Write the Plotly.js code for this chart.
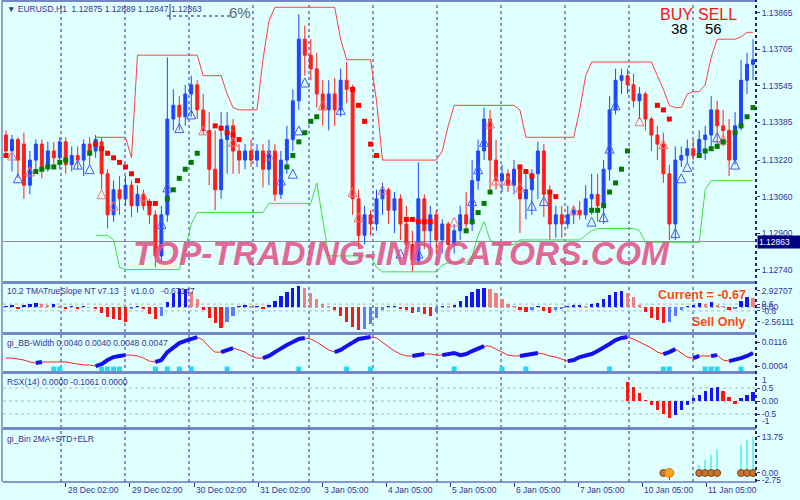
<!DOCTYPE html>
<html><head><meta charset="utf-8">
<script src="https://cdn.plot.ly/plotly-3.0.1.min.js"></script>
<style>html,body{margin:0;padding:0;background:#E0FFFF;}#chart{width:800px;height:500px;}</style>
</head><body><div id="chart"></div>
<script>
// ---------- main panel: candles (EURUSD H1) ----------
const open = [1.1333,1.1326,1.1331,1.1329,1.1311,1.1322,1.1329,1.1319,1.1326,1.1323,
1.1330,1.1320,1.1324,1.1322,1.1329,1.1326,1.1330,1.1316,1.1298,1.1309,
1.1305,1.1311,1.1302,1.1307,1.1302,1.1298,1.1280,1.1298,1.1340,1.1346,
1.1341,1.1351,1.1355,1.1344,1.1335,1.1318,1.1309,1.1331,1.1337,1.1326,
1.1322,1.1326,1.1322,1.1326,1.1318,1.1326,1.1307,1.1322,1.1331,1.1348,
1.1375,1.1368,1.1362,1.1351,1.1344,1.1351,1.1344,1.1357,1.1353,1.1305,
1.1289,1.1298,1.1294,1.1305,1.1309,1.1300,1.1305,1.1294,1.1285,1.1278,
1.1305,1.1291,1.1298,1.1287,1.1294,1.1285,1.1291,1.1298,1.1294,1.1313,
1.1326,1.1340,1.1322,1.1313,1.1316,1.1311,1.1318,1.1305,1.1309,1.1316,
1.1326,1.1307,1.1294,1.1298,1.1294,1.1298,1.1300,1.1298,1.1305,1.1307,
1.1302,1.1318,1.1344,1.1357,1.1359,1.1355,1.1348,1.1351,1.1340,1.1333,
1.1329,1.1316,1.1294,1.1322,1.1324,1.1327,1.1324,1.1331,1.1333,1.1344,
1.1337,1.1335,1.1322,1.1337,1.1357,1.1364];
const close = [1.1326,1.1331,1.1322,1.1311,1.1322,1.1329,1.1318,1.1326,1.1323,1.1330,
1.1320,1.1324,1.1322,1.1329,1.1326,1.1331,1.1316,1.1298,1.1309,1.1305,
1.1311,1.1302,1.1307,1.1302,1.1298,1.1280,1.1298,1.1340,1.1346,1.1341,
1.1351,1.1355,1.1344,1.1335,1.1318,1.1309,1.1331,1.1337,1.1326,1.1322,
1.1326,1.1322,1.1326,1.1318,1.1326,1.1307,1.1322,1.1331,1.1348,1.1375,
1.1368,1.1362,1.1351,1.1344,1.1351,1.1344,1.1357,1.1353,1.1305,1.1289,
1.1298,1.1294,1.1305,1.1309,1.1300,1.1305,1.1294,1.1285,1.1278,1.1305,
1.1291,1.1298,1.1287,1.1294,1.1285,1.1291,1.1298,1.1294,1.1313,1.1326,
1.1340,1.1322,1.1313,1.1316,1.1311,1.1318,1.1305,1.1309,1.1316,1.1326,
1.1307,1.1294,1.1298,1.1294,1.1298,1.1300,1.1298,1.1305,1.1307,1.1302,
1.1318,1.1344,1.1357,1.1359,1.1355,1.1348,1.1351,1.1340,1.1333,1.1329,
1.1316,1.1294,1.1322,1.1324,1.1327,1.1324,1.1331,1.1333,1.1344,1.1337,
1.1335,1.1322,1.1337,1.1357,1.1364,1.1366];
const high = [1.1335,1.1333,1.1332,1.1334,1.1326,1.1331,1.1331,1.1330,1.1330,1.1332,
1.1332,1.1328,1.1328,1.1331,1.1332,1.1333,1.1332,1.1318,1.1313,1.1315,
1.1315,1.1313,1.1311,1.1309,1.1305,1.1300,1.1302,1.1367,1.1353,1.1350,
1.1355,1.1359,1.1357,1.1351,1.1343,1.1335,1.1343,1.1343,1.1340,1.1329,
1.1329,1.1331,1.1329,1.1329,1.1331,1.1329,1.1326,1.1337,1.1353,1.1386,
1.1381,1.1375,1.1369,1.1357,1.1357,1.1358,1.1362,1.1365,1.1355,1.1309,
1.1302,1.1300,1.1309,1.1312,1.1310,1.1308,1.1307,1.1302,1.1291,1.1321,
1.1307,1.1302,1.1300,1.1296,1.1295,1.1294,1.1302,1.1308,1.1322,1.1331,
1.1345,1.1344,1.1331,1.1320,1.1318,1.1322,1.1320,1.1316,1.1318,1.1330,
1.1329,1.1311,1.1302,1.1302,1.1302,1.1302,1.1304,1.1311,1.1316,1.1316,
1.1322,1.1350,1.1362,1.1362,1.1362,1.1360,1.1354,1.1352,1.1341,1.1337,
1.1334,1.1320,1.1328,1.1328,1.1331,1.1331,1.1335,1.1337,1.1350,1.1348,
1.1344,1.1340,1.1343,1.1366,1.1369,1.1375];
const low = [1.1324,1.1317,1.1314,1.1305,1.1307,1.1316,1.1314,1.1317,1.1320,1.1318,
1.1316,1.1317,1.1318,1.1315,1.1320,1.1323,1.1309,1.1292,1.1295,1.1298,
1.1302,1.1297,1.1299,1.1300,1.1294,1.1275,1.1277,1.1295,1.1335,1.1335,
1.1337,1.1341,1.1340,1.1333,1.1311,1.1300,1.1305,1.1316,1.1316,1.1316,
1.1318,1.1319,1.1319,1.1310,1.1311,1.1304,1.1305,1.1316,1.1326,1.1344,
1.1359,1.1357,1.1345,1.1337,1.1335,1.1337,1.1341,1.1347,1.1298,1.1283,
1.1285,1.1289,1.1291,1.1298,1.1294,1.1290,1.1287,1.1280,1.1273,1.1276,
1.1283,1.1281,1.1281,1.1281,1.1280,1.1281,1.1287,1.1290,1.1291,1.1309,
1.1322,1.1309,1.1309,1.1308,1.1308,1.1307,1.1290,1.1296,1.1298,1.1305,
1.1297,1.1287,1.1288,1.1288,1.1292,1.1294,1.1296,1.1296,1.1298,1.1295,
1.1294,1.1313,1.1342,1.1351,1.1351,1.1345,1.1340,1.1335,1.1326,1.1322,
1.1312,1.1287,1.1287,1.1319,1.1321,1.1322,1.1323,1.1322,1.1326,1.1328,
1.1328,1.1315,1.1320,1.1335,1.1351,1.1357];
const N = null;
const upperBand = [N,N,N,N,N,N,N,N,N,N,N,N,N,N,N,
1.1332,1.1332,1.1332,1.1332,1.1332,1.1332,1.1323,
1.1368,1.1368,1.1368,1.1368,1.1368,1.1368,1.1368,1.1368,1.1368,1.1368,1.1368,
1.1359,1.1359,1.1359,1.1359,1.1351,1.1345,1.1344,1.1344,1.1344,1.1344,1.1366,1.1383,
1.1389,1.1389,1.1389,1.1389,1.1389,1.1389,1.1389,1.1389,1.1389,1.1389,1.1389,
1.1375,1.1366,1.1366,1.1366,1.1366,1.1366,1.1348,
1.1322,1.1322,1.1322,1.1322,1.1322,1.1322,1.1322,1.1322,1.1322,1.1322,
1.1326,1.1337,
1.1346,1.1346,1.1346,1.1346,1.1346,1.1346,1.1346,1.1346,1.1346,1.1346,1.1346,
1.1344,1.1332,1.1332,1.1332,1.1332,1.1332,1.1332,1.1332,1.1332,1.1332,
1.1344,1.1359,
1.1365,1.1365,1.1365,1.1365,1.1365,1.1365,1.1365,1.1365,1.1365,1.1365,1.1365,
1.1359,1.1353,1.1346,1.1345,1.1345,1.1351,1.1352,1.1352,1.1355,1.1367,
1.1375,1.1375,1.1375,1.1375,1.1376,1.1378,1.1378];
const lowerBand = [N,N,N,N,N,N,N,N,N,N,N,N,N,N,N,
1.1289,1.1289,1.1289,1.1287,1.1275,
1.1274,1.1274,1.1274,1.1274,1.1274,1.1274,1.1274,1.1274,1.1274,1.1274,
1.1283,1.1294,
1.1299,1.1299,1.1299,1.1299,1.1299,1.1299,1.1299,1.1299,1.1299,1.1299,1.1299,1.1299,
1.1303,1.1303,1.1303,1.1303,1.1303,1.1303,1.1303,1.1303,
1.1312,1.1296,
1.1280,1.1280,1.1280,1.1280,1.1280,1.1280,1.1280,1.1280,
1.1275,1.1273,1.1273,1.1273,1.1273,1.1273,1.1273,1.1273,1.1273,1.1273,1.1273,
1.1276,1.1277,1.1277,1.1277,1.1277,1.1280,1.1289,1.1295,1.1287,
1.1285,1.1285,1.1285,1.1285,
1.1287,1.1287,1.1287,1.1287,1.1287,1.1287,1.1287,1.1287,1.1287,1.1287,1.1287,
1.1289,1.1291,1.1292,1.1292,1.1292,1.1292,1.1292,1.1292,1.1292,1.1291,
1.1286,1.1286,1.1286,1.1286,1.1286,1.1286,1.1286,1.1286,1.1286,1.1286,
1.1309,1.1313,1.1313,1.1313,1.1313,1.1313,1.1313,1.1313,1.1313];
// trailing stop dots (bar index, price)
const sarRedBar = [0,15,16,17,18,19,20,21,22,24,25,35,36,37,38,39,58,59,60,61,62,67,68,69,70,71,86,87,88,91,92,109,110,111];
const sarRedVal = [1.1324,1.1329,1.1327,1.1325,1.1323,1.1321,1.1319,1.1316,1.1313,1.1303,1.1303,1.1337,1.1336,1.1334,1.1333,1.1331,1.1353,1.1346,1.1339,1.1329,1.1324,1.1296,1.1296,1.1295,1.1295,1.1295,1.1319,1.1317,1.1315,1.1308,1.1306,1.1346,1.1344,1.1340];
const sarGreenBar = [5,6,7,8,9,10,14,27,28,29,30,31,32,47,48,49,50,51,52,77,78,79,80,81,98,99,100,101,102,103,104,116,117,118,119,120,122,123,124,125];
const sarGreenVal = [1.1317,1.1318,1.1319,1.1319,1.1321,1.1322,1.1325,1.1305,1.1309,1.1314,1.1318,1.1321,1.1325,1.1319,1.1324,1.1330,1.1334,1.1339,1.1341,1.1291,1.1295,1.1299,1.1303,1.1308,1.1300,1.1300,1.1302,1.1308,1.1312,1.1318,1.1326,1.1324,1.1326,1.1327,1.1328,1.1330,1.1334,1.1337,1.1341,1.1345];
// hollow arrows
const arrBlueBar = [2,12,14,26,27,29,31,46,48,49,50,56,66,69,78,79,80,88,90,98,100,101,102,112,113,114,119,122];
const arrBlueVal = [1.1316,1.1322,1.1320,1.1296,1.1312,1.1338,1.1344,1.1315,1.1318,1.1337,1.1358,1.1346,1.1283,1.1283,1.1306,1.1320,1.1332,1.1304,1.1306,1.1297,1.1299,1.1329,1.1348,1.1292,1.1316,1.1321,1.1334,1.1322];
const arrRedBar = [1,4,16,18,23,33,38,44,53,58,59,63,75,81,82,84,86,95,106,110,120];
const arrRedVal = [1.1326,1.1319,1.1309,1.1304,1.1308,1.1337,1.1332,1.1326,1.1348,1.1310,1.1299,1.1311,1.1297,1.1340,1.1315,1.1315,1.1312,1.1302,1.1341,1.1331,1.1333];
const currentPrice = 1.12863;
const priceTicks = [1.13865,1.13705,1.13545,1.13385,1.13220,1.13060,1.12900,1.12740];
const priceTickText = ['1.13865','1.13705','1.13545','1.13385','1.13220','1.13060','1.12900','1.12740'];

// ---------- TMA True Slope ----------
const tma = [0.3,0.5,-0.2,0.4,0.6,0.8,0.6,0.5,0.7,0.3,
-0.2,0.2,-0.3,0.2,0.1,-0.3,-1.0,-1.6,-2.0,-2.3,
-2.5,-0.3,0.2,-0.3,-1.2,-2.0,-1.5,1.0,2.5,3.2,
3.3,2.8,1.5,-0.5,-1.8,-2.8,-3.6,-2.5,-1.5,0.3,
0.4,0.2,0.2,-0.2,0.5,1.2,2.0,2.8,3.5,3.8,
3.5,2.5,1.5,0.6,0.3,-0.5,-1.5,-2.5,-3.5,-4.0,
-3.8,-3.0,-1.8,-0.5,0.2,0.3,-0.2,-0.5,-1.0,-0.8,
-1.2,-1.5,-0.8,0.3,0.2,0.5,1.2,2.0,2.8,3.2,
3.5,3.3,2.5,1.5,0.6,0.2,-0.5,-0.8,-0.4,0.3,
-0.6,-0.9,-0.5,-0.2,0.3,0.4,0.5,0.3,0.6,0.8,
1.5,2.2,2.8,2.9,2.6,1.8,0.5,-0.8,-1.8,-2.3,
-2.7,-2.5,-1.5,-0.5,0.2,0.5,0.8,0.6,0.9,0.5,
0.3,-0.4,-0.2,1.2,1.9,1.6];
const tmaLevels = [0.6, 0, -0.6];
const tmaTicks = [2.92707, 0.6, 0, -0.6, -2.56111];
const tmaTickText = ['2.92707','0.6','0.00','-0.6','-2.56111'];

// ---------- BB width ----------
const bbw = [0.0041,0.0041,0.0037,0.0032,0.0023,0.0018,0.0023,0.0023,0.0023,0.0023,
0.0023,0.0018,0.0013,0.0009,0.0009,0.0004,0.0013,0.0032,0.0046,0.0051,
0.0055,0.0055,0.0051,0.0041,0.0027,0.0023,0.0032,0.0069,0.0093,0.0111,
0.0121,0.0130,0.0139,0.0125,0.0093,0.0069,0.0069,0.0079,0.0088,0.0079,
0.0069,0.0051,0.0041,0.0041,0.0051,0.0069,0.0088,0.0102,0.0116,0.0130,
0.0135,0.0130,0.0116,0.0097,0.0079,0.0069,0.0079,0.0097,0.0116,0.0130,
0.0135,0.0139,0.0135,0.0116,0.0093,0.0074,0.0060,0.0051,0.0051,0.0055,
0.0060,0.0060,0.0055,0.0055,0.0060,0.0065,0.0055,0.0060,0.0074,0.0088,
0.0097,0.0097,0.0083,0.0069,0.0055,0.0051,0.0051,0.0055,0.0060,0.0065,
0.0060,0.0051,0.0046,0.0037,0.0027,0.0032,0.0046,0.0055,0.0060,0.0074,
0.0088,0.0107,0.0125,0.0135,0.0139,0.0130,0.0116,0.0102,0.0088,0.0069,
0.0060,0.0069,0.0083,0.0065,0.0046,0.0041,0.0051,0.0051,0.0051,0.0055,
0.0032,0.0027,0.0032,0.0041,0.0051,0.0065];
const bbSignalBar = [8,9,16,17,18,19,25,27,29,31,37,49,57,61,75,83,87,101,110,111,117,118,119,123];
const bbSignalLevel = -0.0010;
const bbTicks = [0.0116, 0.0004];
const bbTickText = ['0.0116','0.0004'];

// ---------- RSX(14) ----------
const rsxStart = 104;
const rsx = [0.73,0.55,0.3,0.05,-0.15,-0.35,-0.5,-0.65,-0.55,-0.35,-0.15,0.1,0.25,0.4,0.5,0.55,0.4,0.15,-0.1,0.1,0.25,0.35];
const rsxLevels = [0.5, 0, -0.5];
const rsxTicks = [0.5, 0, -0.5];
const rsxTickText = ['0.5','0.00','-0.5'];

// ---------- gi_Bin ----------
const binBar = [116,117,118,119,123,124,125];
const binVal = [3.0,5.0,6.9,9.2,10.5,12.6,13.75];
const binDotBar = [110,116,117,118,119,123,124,125];
const binWarnBar = [111];
const binWarnVal = [-2.5];
const binTicks = [13.75, 0, -2.75];
const binTickText = ['13.75','0.00','-2.75'];

// ---------- time axis ----------
const dayLines = [9.21,19.91,30.62,41.33,50.70,61.41,72.12,82.83,93.54,104.25,114.96];
const timePos = [-0.67,10.04,20.75,31.46,42.17,52.88,63.59,74.30,85.01,95.72,106.43,117.14];
const timeText = ['27 Dec 2021','28 Dec 02:00','29 Dec 02:00','30 Dec 02:00','31 Dec 02:00','3 Jan 05:00','4 Jan 05:00','5 Jan 05:00','6 Jan 05:00','7 Jan 05:00','10 Jan 05:00','11 Jan 05:00'];

// ================== build ==================
const FONT = 'Liberation Sans, Arial, sans-serif';
const NAVY = '#33339A';
const idx = open.map((_, i) => i);

const tmaColors = tma.map((v, i) => {
  const p = i > 0 ? tma[i - 1] : v;
  if (v >= 0) return v >= p ? '#1414FF' : '#F08080';
  return v <= p ? '#FF1414' : '#5C7CFF';
});
const bbUp = bbw.map((v, i) => ((i > 0 && v > bbw[i - 1]) || (i < bbw.length - 1 && bbw[i + 1] > v)) ? v : null);
const rsxX = rsx.map((_, k) => rsxStart + k);
const rsxColors = rsx.map((v, k) => (k > 0 && v > rsx[k - 1]) ? '#1414FF' : '#FF1414');

const traces = [
  {type:'scatter', mode:'lines', x:idx, y:upperBand, line:{color:'#FF4040', width:1}, xaxis:'x', yaxis:'y', hoverinfo:'skip'},
  {type:'scatter', mode:'lines', x:idx, y:lowerBand, line:{color:'#3BE03B', width:1}, xaxis:'x', yaxis:'y', hoverinfo:'skip'},
  {type:'candlestick', x:idx, open:open, high:high, low:low, close:close, xaxis:'x', yaxis:'y',
   increasing:{line:{color:'#1E46FF', width:1}, fillcolor:'#1E46FF'},
   decreasing:{line:{color:'#FF1E1E', width:1}, fillcolor:'#FF1E1E'}, whiskerwidth:0},
  {type:'scatter', mode:'markers', x:arrBlueBar, y:arrBlueVal, marker:{symbol:'arrow-up-open', size:9, color:'#3A5CFF', line:{color:'#3A5CFF', width:1}}, xaxis:'x', yaxis:'y'},
  {type:'scatter', mode:'markers', x:arrRedBar, y:arrRedVal, marker:{symbol:'arrow-up-open', size:9, color:'#FF6A6A', line:{color:'#FF6A6A', width:1}}, xaxis:'x', yaxis:'y'},
  {type:'scatter', mode:'markers', x:sarRedBar, y:sarRedVal, marker:{symbol:'square', size:5, color:'#FF0000'}, xaxis:'x', yaxis:'y'},
  {type:'scatter', mode:'markers', x:sarGreenBar, y:sarGreenVal, marker:{symbol:'square', size:5, color:'#007A00'}, xaxis:'x', yaxis:'y'},
  {type:'bar', x:idx, y:tma, marker:{color:tmaColors}, width:0.55, xaxis:'x', yaxis:'y2'},
  {type:'scatter', mode:'lines', x:idx, y:bbw, line:{color:'#FF2020', width:1}, xaxis:'x', yaxis:'y3'},
  {type:'scatter', mode:'lines', x:idx, y:bbUp, line:{color:'#1010F0', width:4}, connectgaps:false, xaxis:'x', yaxis:'y3'},
  {type:'scatter', mode:'markers', x:bbSignalBar, y:bbSignalBar.map(() => bbSignalLevel), marker:{symbol:'square', size:5, color:'#22D8F8'}, xaxis:'x', yaxis:'y3'},
  {type:'bar', x:rsxX, y:rsx, marker:{color:rsxColors}, width:0.55, xaxis:'x', yaxis:'y4'},
  {type:'bar', x:binBar, y:binVal, marker:{color:'#6FF4F4'}, width:0.35, xaxis:'x', yaxis:'y5'},
  {type:'bar', x:binWarnBar, y:binWarnVal, marker:{color:'#FF2020'}, width:0.25, xaxis:'x', yaxis:'y5'},
  {type:'scatter', mode:'markers', x:binDotBar, y:binDotBar.map(() => 0), marker:{symbol:'circle', size:7, color:'#C8742E', line:{color:'#7A4A20', width:1}}, xaxis:'x', yaxis:'y5'},
  {type:'scatter', mode:'markers', x:binWarnBar, y:[0], marker:{symbol:'circle', size:9, color:'#FFA21A', line:{color:'#D08010', width:1}}, xaxis:'x', yaxis:'y5'}
];

const tickStyle = {ticks:'outside', ticklen:3, tickcolor:NAVY, tickfont:{family:FONT, size:8.5, color:NAVY}, side:'right', anchor:'x', showgrid:false, zeroline:false, showline:false, fixedrange:true, tickmode:'array'};

const shapes = [];
dayLines.forEach(d => shapes.push({type:'line', xref:'x', yref:'paper', x0:d, x1:d, y0:0, y1:1, line:{color:'#5C5CAA', width:1.3, dash:'dot'}, layer:'below'}));
tmaLevels.forEach(v => shapes.push({type:'line', xref:'paper', yref:'y2', x0:0, x1:1, y0:v, y1:v, line:{color:'#B4B4B4', width:1, dash:'dot'}, layer:'below'}));
rsxLevels.forEach(v => shapes.push({type:'line', xref:'paper', yref:'y4', x0:0, x1:1, y0:v, y1:v, line:{color:'#B4B4B4', width:1, dash:'dot'}, layer:'below'}));
shapes.push({type:'line', xref:'paper', yref:'y', x0:0, x1:1, y0:currentPrice, y1:currentPrice, line:{color:'#8C8C9C', width:1}, layer:'below'});
// panel separators & frame
[[0.4125,0.41875],[0.30625,0.3125],[0.225,0.23125],[0.10833,0.11458]].forEach(s => shapes.push({type:'rect', xref:'paper', yref:'paper', x0:0, x1:1, y0:s[0], y1:s[1], fillcolor:'#7585C5', line:{width:0}}));
shapes.push({type:'rect', xref:'paper', yref:'paper', x0:-0.002, x1:1, y0:1, y1:1.0042, fillcolor:'#7585C5', line:{width:0}});
shapes.push({type:'line', xref:'paper', yref:'paper', x0:-0.0013, x1:-0.0013, y0:0, y1:1, line:{color:'#7585C5', width:1.5}});
shapes.push({type:'line', xref:'paper', yref:'paper', x0:0, x1:1, y0:0, y1:0, line:{color:NAVY, width:1}});
shapes.push({type:'line', xref:'paper', yref:'paper', x0:1, x1:1, y0:0, y1:1.004, line:{color:'#22226E', width:2, dash:'dot'}});
// small dotted frame near 6%
shapes.push({type:'line', xref:'paper', yref:'paper', x0:0.2178, x1:0.3041, y0:0.9708, y1:0.9708, line:{color:'#5C5CAA', width:1.3, dash:'dot'}});
shapes.push({type:'line', xref:'paper', yref:'paper', x0:0.2218, x1:0.2218, y0:0.9625, y1:0.9958, line:{color:NAVY, width:1}});

const small = {family:FONT, size:8.5, color:NAVY};
const ann = [
  {xref:'paper', yref:'paper', x:0.003, y:0.9854, xanchor:'left', yanchor:'middle', showarrow:false, text:'▼ EURUSD,H1  1.12875 1.12889 1.12847 1.12863', font:small},
  {xref:'paper', yref:'paper', x:0.3147, y:0.979, xanchor:'center', yanchor:'middle', showarrow:false, text:'6%', font:{family:FONT, size:15, color:'#5E6678'}},
  {xref:'paper', yref:'paper', x:0.8938, y:0.975, xanchor:'center', yanchor:'middle', showarrow:false, text:'BUY', font:{family:FONT, size:16, color:'#FF1010'}},
  {xref:'paper', yref:'paper', x:0.9495, y:0.975, xanchor:'center', yanchor:'middle', showarrow:false, text:'SELL', font:{family:FONT, size:16, color:'#FF1010'}},
  {xref:'paper', yref:'paper', x:0.899, y:0.9458, xanchor:'center', yanchor:'middle', showarrow:false, text:'38', font:{family:FONT, size:15, color:'#000000'}},
  {xref:'paper', yref:'paper', x:0.9442, y:0.9458, xanchor:'center', yanchor:'middle', showarrow:false, text:'56', font:{family:FONT, size:15, color:'#000000'}},
  {xref:'paper', yref:'paper', x:0.003, y:0.3979, xanchor:'left', yanchor:'middle', showarrow:false, text:'10.2 TMATrueSlope NT v7.13  -  v1.0.0   -0.67147', font:small},
  {xref:'paper', yref:'paper', x:0.9894, y:0.3896, xanchor:'right', yanchor:'middle', showarrow:false, text:'<b>Current = -0.67</b>', font:{family:FONT, size:12.5, color:'#FF4A10'}},
  {xref:'paper', yref:'paper', x:0.9894, y:0.3333, xanchor:'right', yanchor:'middle', showarrow:false, text:'<b>Sell Only</b>', font:{family:FONT, size:12.5, color:'#FF4A10'}},
  {xref:'paper', yref:'paper', x:0.003, y:0.2896, xanchor:'left', yanchor:'middle', showarrow:false, text:'gi_BB-Width 0.0040 0.0040 0.0048 0.0047', font:small},
  {xref:'paper', yref:'paper', x:0.003, y:0.2083, xanchor:'left', yanchor:'middle', showarrow:false, text:'RSX(14) 0.0000 -0.1061 0.0000', font:small},
  {xref:'paper', yref:'paper', x:0.003, y:0.0896, xanchor:'left', yanchor:'middle', showarrow:false, text:'gi_Bin 2MA+STD+ELR', font:small},
  {xref:'paper', yref:'y4', x:1, y:1, xanchor:'left', yanchor:'top', xshift:4, yshift:2, showarrow:false, text:'1', font:small},
  {xref:'paper', yref:'y4', x:1, y:-1, xanchor:'left', yanchor:'bottom', xshift:4, yshift:-1, showarrow:false, text:'-1', font:small},
  {xref:'paper', yref:'y', x:1, y:currentPrice, xanchor:'left', yanchor:'middle', xshift:1, showarrow:false, text:'1.12863', width:41, align:'left', bgcolor:'#000080', borderpad:1, font:{family:FONT, size:8.5, color:'#FFFFFF'}},
  {xref:'paper', yref:'paper', x:0.5286, y:0.477, xanchor:'center', yanchor:'middle', showarrow:false, text:'<b><i>TOP-TRADING-INDICATORS.COM</i></b>', font:{family:FONT, size:33.5, color:'rgba(226,84,134,0.9)'}}
];
timePos.forEach((p, k) => ann.push({xref:'x', yref:'paper', x:p, y:-0.0167, xanchor:'left', yanchor:'middle', showarrow:false, text:timeText[k], font:small}));

const layout = {
  width:800, height:500, margin:{l:3, r:44, t:2, b:18},
  paper_bgcolor:'#E0FFFF', plot_bgcolor:'#E0FFFF', showlegend:false, bargap:0,
  xaxis:{domain:[0,1], range:[-0.5,125.5], anchor:'y5', showgrid:false, zeroline:false, showline:false, rangeslider:{visible:false},
         tickmode:'array', tickvals:timePos, ticks:'outside', ticklen:4, tickcolor:NAVY, showticklabels:false, fixedrange:true},
  yaxis:Object.assign({}, tickStyle, {domain:[0.41875,1], range:[1.12690,1.13913], tickvals:priceTicks, ticktext:priceTickText}),
  yaxis2:Object.assign({}, tickStyle, {domain:[0.3125,0.4125], range:[-4.34,4.16], tickvals:tmaTicks, ticktext:tmaTickText}),
  yaxis3:Object.assign({}, tickStyle, {domain:[0.23125,0.30625], range:[-0.0019,0.01487], tickvals:bbTicks, ticktext:bbTickText}),
  yaxis4:Object.assign({}, tickStyle, {domain:[0.11458,0.225], range:[-1.0,1.04], tickvals:rsxTicks, ticktext:rsxTickText}),
  yaxis5:Object.assign({}, tickStyle, {domain:[0,0.10833], range:[-3.44,16.4], tickvals:binTicks, ticktext:binTickText}),
  shapes:shapes, annotations:ann
};
Plotly.newPlot('chart', traces, layout, {staticPlot:true, displayModeBar:false});
</script>
</body></html>
